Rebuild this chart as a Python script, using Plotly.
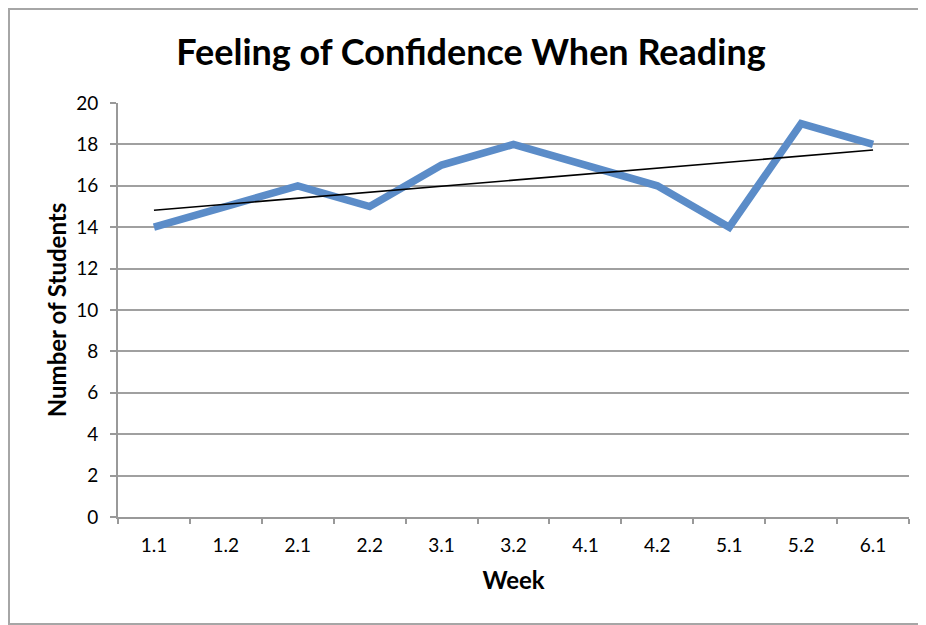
import numpy as np
import plotly.graph_objects as go

weeks = ["1.1", "1.2", "2.1", "2.2", "3.1", "3.2", "4.1", "4.2", "5.1", "5.2", "6.1"]
students = [14, 15, 16, 15, 17, 18, 17, 16, 14, 19, 18]
y_ticks = [0, 2, 4, 6, 8, 10, 12, 14, 16, 18, 20]

title_text = "Feeling of Confidence When Reading"
x_title = "Week"
y_title = "Number of Students"

# linear trendline (least squares on category index)
idx = np.arange(len(weeks))
slope, intercept = np.polyfit(idx, students, 1)
trend = slope * idx + intercept

# page body has an 8px default margin; size the figure to compensate
OFF = 8
W, H = 926 - OFF, 625 - OFF
L, R, T, B = 118 - OFF, 17, 103 - OFF, 108
pw, ph = W - L - R, H - T - B

def px(x):
    return (x - L) / pw

def py(y):
    return (H - B - y) / ph

fig = go.Figure()
fig.add_trace(go.Scatter(x=weeks, y=students, mode="lines",
                         line=dict(color="#5b8cc8", width=7.5),
                         showlegend=False, hoverinfo="skip"))
fig.add_trace(go.Scatter(x=weeks, y=trend, mode="lines",
                         line=dict(color="#000000", width=1.6),
                         showlegend=False, hoverinfo="skip"))

font_fam = "Lato, Open Sans, sans-serif"
fig.update_layout(
    width=W, height=H,
    margin=dict(l=L, r=R, t=T, b=B, autoexpand=False),
    paper_bgcolor="white", plot_bgcolor="white",
    font=dict(family=font_fam, color="#000000", size=19),
    title=dict(text="<b>" + title_text + "</b>", x=(471 - OFF) / W, xanchor="center",
               xref="container",
               y=1 - (52 - OFF) / H, yanchor="middle",
               font=dict(size=36, family=font_fam, color="#000")),
    xaxis=dict(
        type="category", tickson="boundaries", ticks="outside", ticklen=5,
        tickcolor="#999999", tickwidth=2,
        showline=True, linecolor="#999999", linewidth=2,
        showgrid=False, zeroline=False,
        tickfont=dict(size=19), ticklabelstandoff=10,
        title=dict(text="<b>" + x_title + "</b>", font=dict(size=24), standoff=17),
        range=[-0.5, len(weeks) - 0.5],
    ),
    yaxis=dict(
        range=[0, 20], tickvals=y_ticks, ticks="outside", ticklen=6,
        tickcolor="#999999", tickwidth=2,
        showline=True, linecolor="#999999", linewidth=2,
        showgrid=True, gridcolor="#a0a0a0", gridwidth=2,
        zeroline=False, tickfont=dict(size=19), ticklabelstandoff=8,
        title=dict(text="<b>" + y_title + "</b>", font=dict(size=24), standoff=3),
    ),
    shapes=[dict(type="rect", xref="paper", yref="paper",
                 x0=px(1), x1=px(940), y0=py(H - 1), y1=py(1),
                 line=dict(color="#a6a6a6", width=2), layer="below")],
)

fig.write_html("out.html")
